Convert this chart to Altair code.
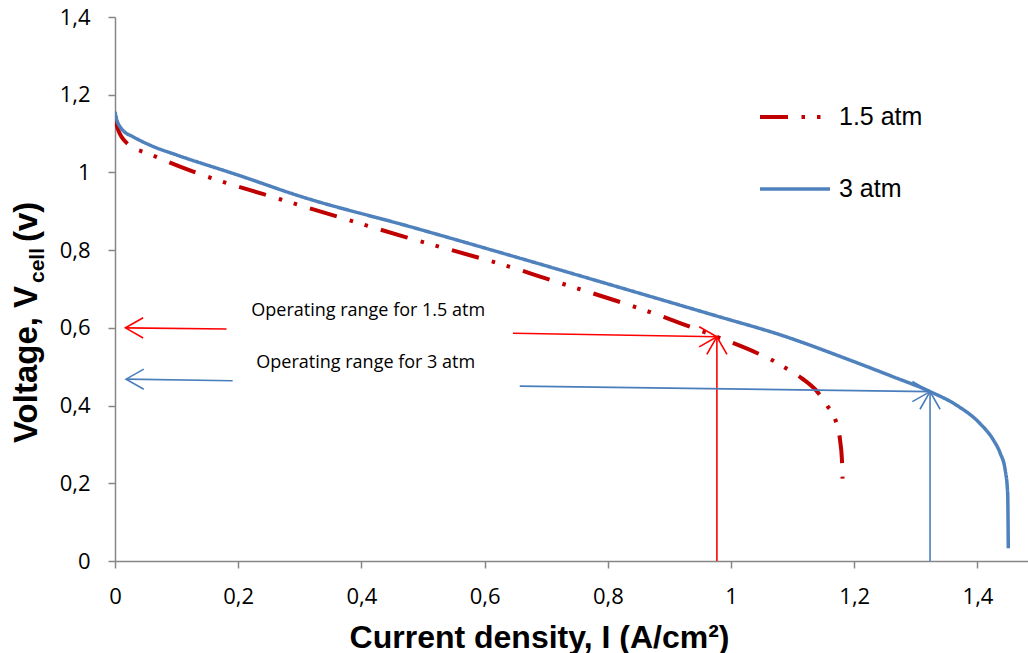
import altair as alt
import pandas as pd

# Polarization curves: current density (A/cm²) and cell voltage (V)
i_15atm = [0.0, 0.005, 0.019, 0.06, 0.127, 0.241, 0.268, 0.473, 0.657, 0.690,
           0.887, 0.933, 0.977, 1.041, 1.063, 1.085, 1.115, 1.142, 1.156, 1.169,
           1.177, 1.180, 1.181]
v_15atm = [1.137, 1.110, 1.076, 1.045, 1.002, 0.944, 0.931, 0.833, 0.749, 0.732,
           0.630, 0.603, 0.577, 0.536, 0.520, 0.500, 0.470, 0.432, 0.400, 0.365,
           0.310, 0.260, 0.212]

i_3atm = [0.0, 0.003, 0.008, 0.015, 0.029, 0.06, 0.10, 0.20, 0.30, 0.48, 0.66,
          0.80, 0.98, 1.08, 1.193, 1.26, 1.323, 1.365, 1.404, 1.426, 1.437, 1.445,
          1.449, 1.450]
v_3atm = [1.156, 1.135, 1.118, 1.105, 1.092, 1.068, 1.045, 0.993, 0.939, 0.860,
          0.778, 0.713, 0.629, 0.582, 0.517, 0.476, 0.436, 0.402, 0.354, 0.311,
          0.277, 0.234, 0.174, 0.033]

series_names = ["1.5 atm", "3 atm"]
series_colors = ["#C00000", "#4F81BD"]
series_dash = [[28, 13.5, 3.5, 12, 3.5, 13.5], [1, 0]]

x_ticks = [0, 0.2, 0.4, 0.6, 0.8, 1.0, 1.2, 1.4]
y_ticks = [0, 0.2, 0.4, 0.6, 0.8, 1.0, 1.2, 1.4]

# Operating-range arrows: shaft start (x, y) -> tip (x2, y2)
arrow_x = [0.181, 0.646, 0.977, 0.191, 0.657, 1.323]
arrow_y = [0.597, 0.586, 0.0, 0.464, 0.450, 0.0]
arrow_x2 = [0.017, 0.977, 0.977, 0.018, 1.323, 1.323]
arrow_y2 = [0.600, 0.577, 0.577, 0.468, 0.436, 0.436]
arrow_color = ["#FF0000", "#FF0000", "#FF0000", "#4A7EBB", "#4A7EBB", "#4A7EBB"]
# heading of each arrow tip, degrees (0 = pointing left)
arrow_angle = [0, 180, 90, 0, 180, 90]

note_text = ["Operating range for 1.5 atm", "Operating range for 3 atm"]
note_x = [0.411, 0.407]
note_y = [0.644, 0.510]

curves = pd.concat([
    pd.DataFrame({"I": i_15atm, "V": v_15atm, "series": series_names[0], "order": range(len(i_15atm))}),
    pd.DataFrame({"I": i_3atm, "V": v_3atm, "series": series_names[1], "order": range(len(i_3atm))}),
])
arrows = pd.DataFrame({"x": arrow_x, "y": arrow_y, "x2": arrow_x2, "y2": arrow_y2,
                       "c": arrow_color, "a": arrow_angle})
notes = pd.DataFrame({"t": note_text, "x": note_x, "y": note_y})

x_scale = alt.Scale(domain=[0, 1.482], nice=False, zero=False)
y_scale = alt.Scale(domain=[0, 1.4], nice=False)

axis_common = dict(
    domainColor="#868686", domainWidth=1.5, tickColor="#868686", tickWidth=1.5,
    tickSize=7, grid=False, labelColor="#000000", labelFont="Open Sans",
    labelFontSize=22, labelFlush=False,
    labelExpr="replace(format(datum.value, '~g'), '.', ',')",
)

x_axis = alt.Axis(
    values=x_ticks, labelPadding=18, title="Current density, I (A/cm²)",
    titleFont="Liberation Sans", titleFontSize=32, titleFontWeight="bold",
    titleColor="#000000", titleX=424, titleY=86, titleAlign="center",
    titleBaseline="alphabetic", **axis_common,
)
y_axis = alt.Axis(values=y_ticks, labelPadding=18, title=None, **axis_common)

lines = alt.Chart(curves).mark_line(interpolate="monotone", clip=True).encode(
    x=alt.X("I:Q", scale=x_scale, axis=x_axis),
    y=alt.Y("V:Q", scale=y_scale, axis=y_axis),
    order="order:Q",
    color=alt.Color("series:N", scale=alt.Scale(domain=series_names, range=series_colors),
                    legend=alt.Legend(
                        orient="none", legendX=643, legendY=63, title=None,
                        symbolType="stroke", symbolSize=4900, symbolStrokeWidth=4,
                        labelFont="Liberation Sans", labelFontSize=25,
                        labelColor="#000000", labelOffset=7, rowPadding=22, padding=0)),
    strokeDash=alt.StrokeDash("series:N", scale=alt.Scale(domain=series_names, range=series_dash),
                              legend=None),
    strokeWidth=alt.StrokeWidth("series:N", scale=alt.Scale(domain=series_names, range=[4, 3.5]),
                                legend=None),
)

shafts = alt.Chart(arrows).mark_rule(strokeWidth=1.6).encode(
    x="x:Q", y="y:Q", x2="x2:Q", y2="y2:Q",
    color=alt.Color("c:N", scale=None),
)

heads = alt.Chart(arrows).mark_point(
    shape="M 1 -0.57 L 0 0 L 1 0.57", filled=False, size=1250, strokeWidth=1.6, opacity=1,
).encode(
    x="x2:Q", y="y2:Q",
    color=alt.Color("c:N", scale=None),
    angle=alt.Angle("a:Q", scale=None),
)

labels = alt.Chart(notes).mark_text(
    font="Open Sans", fontSize=18, color="#000000", align="center", baseline="middle",
).encode(x="x:Q", y="y:Q", text="t:N")

# Y-axis title with subscripted "cell"
title_font = dict(font="Liberation Sans", fontWeight="bold", color="#000000",
                  angle=270, align="left", baseline="alphabetic")
one = pd.DataFrame({"k": [0]})
ytitle_main = alt.Chart(one).mark_text(text="Voltage, V", fontSize=33, **title_font).encode(
    x=alt.value(-78), y=alt.value(426))
ytitle_sub = alt.Chart(one).mark_text(text="cell", fontSize=21, **title_font).encode(
    x=alt.value(-71), y=alt.value(266))
ytitle_end = alt.Chart(one).mark_text(text="(v)", fontSize=33, **title_font).encode(
    x=alt.value(-78), y=alt.value(225))

chart = alt.layer(
    lines, shafts, heads, labels, ytitle_main, ytitle_sub, ytitle_end
).properties(
    width=913, height=544,
    padding={"left": 115, "top": 17, "right": 0, "bottom": 92},
    autosize=alt.AutoSizeParams(type="none"),
    background="#FFFFFF",
).configure_view(stroke=None)

chart.save("out.html", embed_options={"renderer": "svg", "actions": False})
